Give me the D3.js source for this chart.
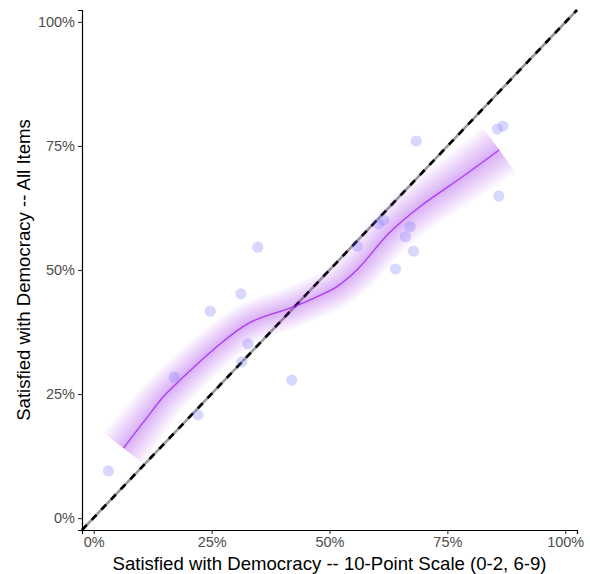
<!DOCTYPE html>
<html>
<head>
<meta charset="utf-8">
<script src="https://cdn.jsdelivr.net/npm/d3@7"></script>
<style>
	body { margin: 0; background: #fff; }
	svg { display: block; font-family: "Liberation Sans", Arial, sans-serif; }
</style>
</head>
<body>
<svg id="chart" width="590" height="574"></svg>
<script>
//observed points (percent)
var pointX = [3.1, 17.1, 22.1, 24.7, 31.2, 31.4, 32.7, 34.8, 42.0, 55.9, 60.4, 61.5, 67.1, 66.1, 67.8, 64.0, 68.4, 85.6, 86.8, 85.9];
var pointY = [9.5, 28.4, 20.8, 41.7, 45.2, 31.5, 35.1, 54.6, 27.8, 54.8, 59.3, 60.0, 58.7, 56.7, 53.8, 50.2, 76.0, 78.4, 79.0, 64.9];

//smoothed fit and its spread (percent)
var smoothX  = [6.3, 11.4, 14.7, 18.3, 25.3, 32.9, 42.2, 47.3, 51.5, 55.8, 62.7, 69.1, 78.2, 86.0];
var smoothY  = [14.1, 20.4, 24.4, 27.8, 33.9, 39.3, 42.5, 44.6, 46.6, 50.0, 57.5, 62.7, 68.8, 74.2];
var smoothSe = [5.0, 4.7, 4.5, 4.4, 4.2, 4.1, 4.1, 4.1, 4.2, 4.3, 4.6, 4.9, 5.3, 5.7];

var xTicks = [0, 25, 50, 75, 100];
var yTicks = [0, 25, 50, 75, 100];

var xTitle = "Satisfied with Democracy -- 10-Point Scale (0-2, 6-9)";
var yTitle = "Satisfied with Democracy -- All Items";

var margin = {top: 10, right: 13, bottom: 44, left: 82};
var svg = d3.select("#chart");
var width = +svg.attr("width"), height = +svg.attr("height");

var x = d3.scaleLinear().domain([-2.5, 102.5]).range([margin.left, width - margin.right]);
var y = d3.scaleLinear().domain([-2.4, 102.4]).range([height - margin.bottom, margin.top]);

var pxPerPct = y(0) - y(1);

//reference line y = x
var diag = [[-2.5, -2.4], [102.5, 102.4]];
var diagLine = d3.line().x(function(d){return x(d[0]);}).y(function(d){return y(d[1]);});
svg.append("path").attr("d", diagLine(diag))
	.attr("stroke", "#9a9a9a").attr("stroke-width", 2.6).attr("fill", "none");
svg.append("path").attr("d", diagLine(diag))
	.attr("stroke", "#000").attr("stroke-width", 2.6).attr("fill", "none")
	.attr("stroke-dasharray", "7,7");

//centre line as a path, then sampled to build the bands
var smooth = smoothX.map(function(v,i){return [v, smoothY[i]];});
var centre = d3.line().curve(d3.curveCatmullRom)
	.x(function(d){return x(d[0]);}).y(function(d){return y(d[1]);});
var guide = svg.append("path").attr("d", centre(smooth)).attr("fill", "none").attr("stroke", "none");
var node = guide.node(), total = node.getTotalLength();
var seAt = d3.scaleLinear().domain(smoothX).range(smoothSe).clamp(true);
var samples = [];
for (var l = 0; l <= total; l += 1.5) samples.push(node.getPointAtLength(Math.min(l, total)));
samples.push(node.getPointAtLength(total));
var normals = samples.map(function(p, i) {
	var a = samples[Math.max(0, i-1)], b = samples[Math.min(samples.length-1, i+1)];
	var dx = b.x - a.x, dy = b.y - a.y, n = Math.sqrt(dx*dx + dy*dy) || 1;
	return [-dy/n, dx/n];
});

var bands = svg.append("g");
var levels = 10;
for (var k = levels; k >= 1; k--) {
	var f = Math.pow(k / levels, 1.15);
	var upper = samples.map(function(p, i) {
		var h = seAt(x.invert(p.x)) * pxPerPct * f;
		return [p.x + normals[i][0]*h, p.y + normals[i][1]*h];
	});
	var lower = samples.map(function(p, i) {
		var h = seAt(x.invert(p.x)) * pxPerPct * f;
		return [p.x - normals[i][0]*h, p.y - normals[i][1]*h];
	}).reverse();
	bands.append("path")
		.attr("d", "M" + upper.concat(lower).join("L") + "Z")
		.attr("fill", "#A020F0").attr("fill-opacity", 0.04);
}
svg.append("path").attr("d", centre(smooth))
	.attr("fill", "none").attr("stroke", "#A020F0").attr("stroke-width", 1.3).attr("stroke-opacity", 0.8);

//points
svg.append("g").selectAll("circle")
	.data(pointX)
	.enter().append("circle")
	.attr("cx", function(d){return x(d);})
	.attr("cy", function(d,i){return y(pointY[i]);})
	.attr("r", 5.6)
	.attr("fill", "#7373ff").attr("fill-opacity", 0.28);

//axes
var fmt = function(d){return d + "%";};
var gx = svg.append("g").attr("transform", "translate(0," + (height - margin.bottom) + ")")
	.call(d3.axisBottom(x).tickValues(xTicks).tickFormat(fmt).tickSizeOuter(0).tickSize(4).tickPadding(3));
var gy = svg.append("g").attr("transform", "translate(" + margin.left + ",0)")
	.call(d3.axisLeft(y).tickValues(yTicks).tickFormat(fmt).tickSizeOuter(0).tickSize(4).tickPadding(3));
[gx, gy].forEach(function(g) {
	g.attr("font-size", 14.5).attr("font-family", "Liberation Sans");
	g.select(".domain").attr("stroke", "#000").attr("stroke-width", 1.2);
	g.selectAll(".tick line").attr("stroke", "#333").attr("stroke-width", 1.1);
	g.selectAll(".tick text").attr("fill", "#4d4d4d");
});

//titles
svg.append("text").attr("x", (margin.left + width - margin.right)/2).attr("y", 570)
	.attr("text-anchor", "middle").attr("font-size", 18.6).attr("fill", "#000").text(xTitle);
svg.append("text").attr("transform", "translate(30," + ((margin.top + height - margin.bottom)/2) + ") rotate(-90)")
	.attr("text-anchor", "middle").attr("font-size", 18.6).attr("fill", "#000").text(yTitle);
</script>
</body>
</html>
